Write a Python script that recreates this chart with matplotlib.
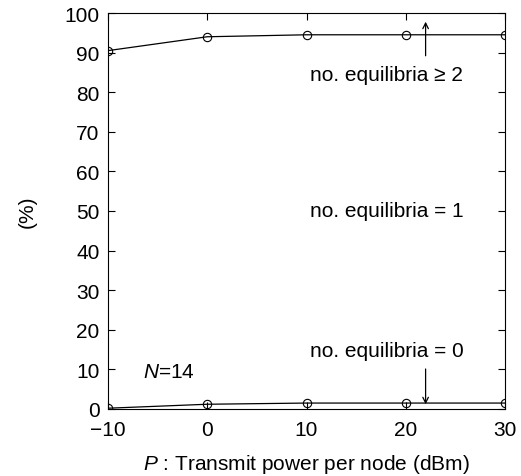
import numpy as np
import matplotlib.pyplot as plt

plt.rcParams['font.family'] = ['Liberation Sans', 'DejaVu Sans']
plt.rcParams['mathtext.fontset'] = 'custom'
plt.rcParams['mathtext.it'] = 'Liberation Sans:italic'
plt.rcParams['mathtext.rm'] = 'Liberation Sans'

power = [-10, 0, 10, 20, 30]
eq_ge2 = [90.5, 94.0, 94.5, 94.5, 94.5]
eq_0 = [0.2, 1.2, 1.5, 1.5, 1.5]

fig = plt.figure(figsize=(5.21, 4.77), dpi=100)
ax = fig.add_axes([108 / 521, 67 / 477, 397 / 521, 396 / 477])

ax.plot(power, eq_ge2, '-', color='black', lw=0.9, marker='o', ms=6,
        mfc='none', mec='black', mew=0.8)
ax.plot(power, eq_0, '-', color='black', lw=0.9, marker='o', ms=6,
        mfc='none', mec='black', mew=0.8)

ax.set_xlim(-10, 30)
ax.set_ylim(0, 100)
ax.set_xticks([-10, 0, 10, 20, 30])
ax.set_xticklabels(['\u221210', '0', '10', '20', '30'])
ax.set_yticks(np.arange(0, 101, 10))
ax.tick_params(direction='in', top=True, right=True, labelsize=15, length=5, width=0.8)
ax.tick_params(axis='x', pad=8)
ax.tick_params(axis='y', pad=6)
for s in ax.spines.values():
    s.set_linewidth(0.8)

ax.set_xlabel('$P$ : Transmit power per node (dBm)', fontsize=15, labelpad=9)
ax.set_ylabel('(%)', fontsize=15, labelpad=20)

ax.annotate('', xy=(22, 98.5), xytext=(22, 88.5),
            arrowprops=dict(arrowstyle='->', color='black', lw=0.9))
ax.annotate('', xy=(22, 0.5), xytext=(22, 10.8),
            arrowprops=dict(arrowstyle='->', color='black', lw=0.9))

ax.text(25.8, 84.5, 'no. equilibria \u2265 2', fontsize=15, ha='right', va='center')
ax.text(25.8, 50, 'no. equilibria = 1', fontsize=15, ha='right', va='center')
ax.text(25.8, 14.7, 'no. equilibria = 0', fontsize=15, ha='right', va='center')
ax.text(-6.5, 9.5, '$N$=14', fontsize=15, ha='left', va='center')

fig.savefig('out.png', dpi=100)
